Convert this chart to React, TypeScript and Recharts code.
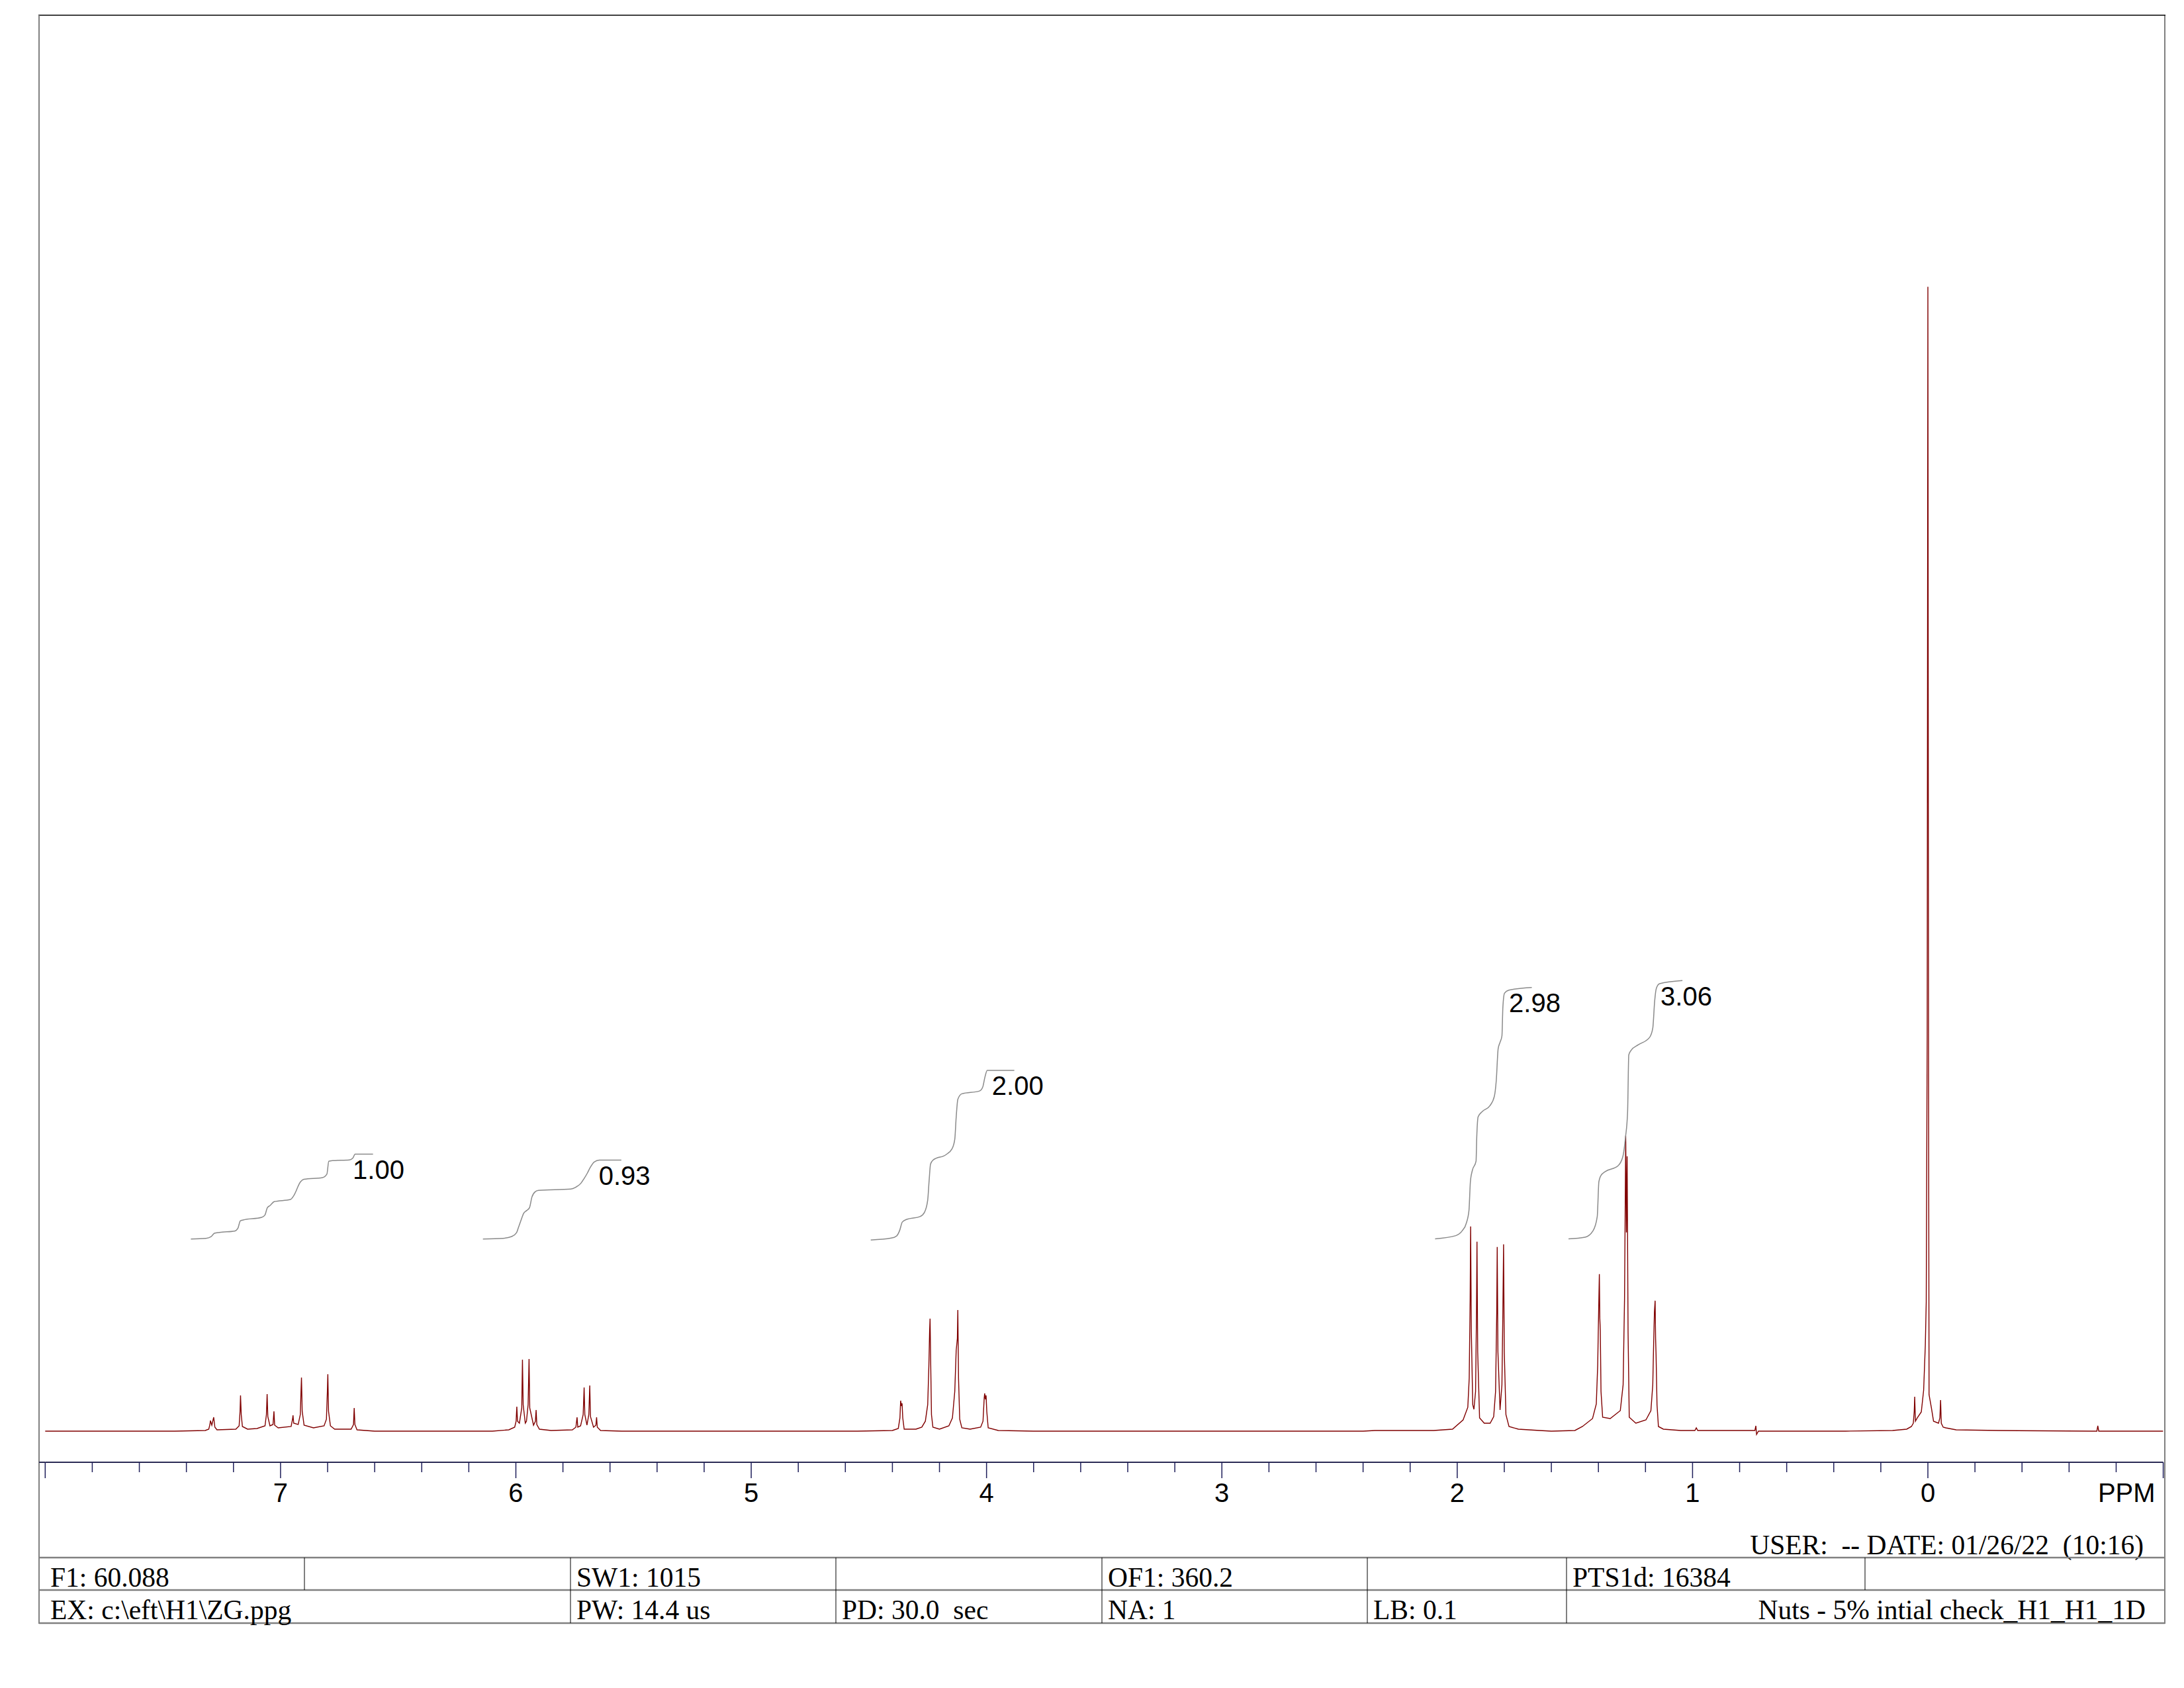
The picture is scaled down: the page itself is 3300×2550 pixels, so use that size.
import React from 'react';
import { LineChart, Line, XAxis, YAxis, ReferenceDot } from 'recharts';

type Pt = [number, number];

// 1H spectrum trace, [ppm, intensity] (TMS = 1728)
const aromatic: Pt[] = [
  [8.03, 0], [7.45, 0], [7.32, 1], [7.305, 3], [7.3, 10], [7.298, 16], [7.292, 9], [7.284, 21], [7.279, 6],
  [7.27, 2], [7.19, 3], [7.176, 8], [7.172, 30], [7.17, 54], [7.167, 25], [7.162, 7], [7.14, 3], [7.1, 4],
  [7.066, 8], [7.06, 25], [7.057, 56], [7.054, 22], [7.045, 8], [7.032, 10], [7.028, 30], [7.025, 9],
  [7.01, 5], [6.955, 7], [6.949, 18], [6.947, 24], [6.944, 12], [6.925, 10], [6.916, 25], [6.913, 60],
  [6.911, 81], [6.908, 30], [6.9, 9], [6.86, 5], [6.815, 8], [6.805, 18], [6.801, 60], [6.799, 86],
  [6.796, 30], [6.788, 8], [6.77, 3], [6.7, 3], [6.69, 10], [6.687, 35], [6.684, 10], [6.675, 2], [6.6, 0],
];

const vinyl: Pt[] = [
  [6.1, 0], [6.03, 2], [6.005, 6], [5.999, 15], [5.996, 37], [5.993, 15], [5.985, 12], [5.975, 35],
  [5.972, 108], [5.969, 40], [5.96, 12], [5.955, 15], [5.948, 40], [5.944, 109], [5.941, 35], [5.925, 9],
  [5.917, 15], [5.914, 32], [5.911, 10], [5.9, 3], [5.85, 1], [5.76, 2], [5.745, 6], [5.74, 21], [5.737, 6],
  [5.725, 8], [5.714, 25], [5.71, 66], [5.707, 25], [5.698, 9], [5.69, 25], [5.686, 69], [5.683, 22],
  [5.67, 6], [5.66, 9], [5.657, 21], [5.654, 6], [5.64, 1], [5.55, 0],
];

const ethoxyCH2: Pt[] = [
  [4.55, 0], [4.4, 1], [4.375, 4], [4.368, 20], [4.365, 46], [4.362, 38], [4.359, 42], [4.356, 20],
  [4.35, 3], [4.3, 3], [4.275, 6], [4.26, 15], [4.25, 40], [4.245, 100], [4.242, 150], [4.24, 170],
  [4.238, 120], [4.234, 25], [4.228, 6], [4.2, 3], [4.16, 8], [4.145, 20], [4.135, 60], [4.129, 122],
  [4.124, 140], [4.122, 183], [4.119, 80], [4.114, 18], [4.105, 5], [4.07, 3], [4.025, 6], [4.015, 15],
  [4.01, 50], [4.008, 57], [4.005, 48], [4.002, 54], [3.999, 30], [3.993, 5], [3.95, 1], [3.8, 0],
];

const methylDoublets: Pt[] = [
  [2.4, 0], [2.35, 1], [2.3, 1], [2.1, 1], [2.02, 3], [1.975, 17], [1.955, 36], [1.949, 80], [1.945, 200],
  [1.943, 309], [1.94, 150], [1.934, 40], [1.929, 33], [1.922, 60], [1.918, 180], [1.916, 286],
  [1.913, 120], [1.905, 20], [1.885, 12], [1.86, 12], [1.845, 22], [1.837, 60], [1.832, 180],
  [1.83, 278], [1.827, 120], [1.818, 32], [1.81, 70], [1.806, 180], [1.803, 282], [1.8, 120],
  [1.793, 25], [1.78, 7], [1.74, 3], [1.65, 1],
];

const aliphatic: Pt[] = [
  [1.6, 0], [1.5, 1], [1.468, 7], [1.425, 19], [1.409, 41], [1.403, 100], [1.401, 142], [1.398, 200],
  [1.396, 237], [1.394, 170], [1.392, 152], [1.389, 60], [1.382, 21], [1.35, 19], [1.307, 31],
  [1.295, 70], [1.289, 200], [1.284, 446], [1.281, 300], [1.278, 415], [1.274, 150], [1.269, 21],
  [1.241, 12], [1.198, 17], [1.177, 31], [1.169, 70], [1.166, 121], [1.162, 180], [1.159, 197],
  [1.157, 140], [1.155, 115], [1.151, 40], [1.145, 7], [1.124, 3], [1.05, 1], [0.99, 1], [0.984, 5],
  [0.978, 1], [0.8, 1], [0.735, 1], [0.731, 8], [0.728, -5], [0.72, 0], [0.4, 0],
];

const tms: Pt[] = [
  [0.35, 0], [0.15, 1], [0.09, 3], [0.07, 7], [0.062, 12], [0.058, 30], [0.056, 52], [0.053, 15],
  [0.045, 20], [0.028, 29], [0.018, 62], [0.011, 129], [0.007, 195], [0.003, 600], [0, 1728],
  [-0.003, 500], [-0.005, 55], [-0.01, 45], [-0.015, 35], [-0.024, 15], [-0.045, 12], [-0.051, 20],
  [-0.054, 47], [-0.057, 12], [-0.065, 6], [-0.076, 5], [-0.12, 2], [-0.3, 1], [-0.7, 0], [-0.718, 0],
  [-0.722, 8], [-0.726, 0], [-1.0, 0],
];

// integral curves, [ppm, level]
const integral1: Pt[] = [
  [7.381, 290.2], [7.317, 291.2], [7.295, 293.8], [7.281, 298.8], [7.259, 300.2], [7.195, 302.2],
  [7.181, 306.5], [7.171, 317.5], [7.159, 318.8], [7.08, 322.8], [7.066, 326.5], [7.056, 337.5],
  [7.044, 340.8], [7.027, 346.5], [6.958, 349.8], [6.944, 355.5], [6.915, 376.5], [6.901, 380.2],
  [6.822, 382.8], [6.803, 388.2], [6.795, 407.5], [6.779, 408.5], [6.707, 409.5], [6.693, 412.2],
  [6.683, 418.2], [6.607, 418.2],
];
const integral2: Pt[] = [
  [6.14, 290.2], [6.054, 291.2], [6.018, 293.8], [5.997, 299.8], [5.99, 306.5], [5.975, 321.5],
  [5.968, 328.2], [5.954, 333.2], [5.942, 337.5], [5.932, 353.2], [5.918, 361.5], [5.904, 363.5],
  [5.767, 365.5], [5.746, 368.2], [5.724, 374.2], [5.71, 381.5], [5.696, 389.8], [5.684, 398.2],
  [5.667, 406.5], [5.645, 409.2], [5.552, 409.2],
];
const integral3: Pt[] = [
  [4.492, 288.6], [4.405, 291.5], [4.382, 294.8], [4.369, 303.2], [4.358, 315.7], [4.339, 319.8],
  [4.283, 324], [4.264, 330.3], [4.25, 349], [4.244, 378.2], [4.238, 403.2], [4.227, 409.4],
  [4.171, 417.8], [4.147, 426.1], [4.135, 440.7], [4.129, 474], [4.122, 501.1], [4.105, 509.4],
  [4.03, 513.6], [4.016, 519.8], [4.007, 534.4], [3.997, 544.8], [3.882, 544.8],
];
const integral4: Pt[] = [
  [2.094, 290.4], [2.006, 295.2], [1.979, 302.4], [1.961, 314.4], [1.95, 333.5], [1.944, 376.6],
  [1.936, 393.3], [1.92, 407.7], [1.917, 443.6], [1.911, 474.7], [1.893, 482.8], [1.861, 491.4],
  [1.842, 505.8], [1.834, 529.7], [1.826, 577.5], [1.818, 587.1], [1.81, 596.7], [1.806, 639.7],
  [1.799, 661.3], [1.78, 666], [1.683, 669.9],
];
const integral5: Pt[] = [
  [1.527, 290.4], [1.457, 292.8], [1.423, 302.4], [1.405, 323.9], [1.398, 376.6], [1.389, 386.1],
  [1.371, 391.9], [1.317, 400.5], [1.296, 414.8], [1.285, 443.6], [1.276, 481.8], [1.271, 568],
  [1.261, 575.1], [1.231, 583.3], [1.183, 594.3], [1.169, 608.6], [1.161, 649.3], [1.154, 668.4],
  [1.14, 675.6], [1.043, 680.4],
];

const integralValues = ['1.00', '0.93', '2.00', '2.98', '3.06'];
const integralLabelAt: Pt[] = [[6.693, 380.5], [5.648, 372], [3.977, 507.5], [1.78, 632.5], [1.136, 642.5]];

const majorTicks = [8, 7, 6, 5, 4, 3, 2, 1, 0, -1];
const majorTickLabels = ['', '7', '6', '5', '4', '3', '2', '1', '0', 'PPM'];

const paramsRow1 = ['F1: 60.088', '', 'SW1: 1015', '', 'OF1: 360.2', '', 'PTS1d: 16384', ''];
const paramsRow2 = ['EX: c:\\eft\\H1\\ZG.ppg', 'PW: 14.4 us', 'PD: 30.0  sec', 'NA: 1', 'LB: 0.1', 'Nuts - 5% intial check_H1_H1_1D'];
const headerText = 'USER:  -- DATE: 01/26/22  (10:16)';

const SANS = "'Liberation Sans', Arial, Helvetica, sans-serif";
const SERIF = "'Liberation Serif', 'Times New Roman', Times, serif";

const toRows = (pts: Pt[]) => pts.map(([ppm, v]) => ({ ppm, v }));
const spectrum = toRows(
  [...aromatic, ...vinyl, ...ethoxyCH2, ...methylDoublets, ...aliphatic, ...tms].sort((a, b) => b[0] - a[0])
);
const integrals = [integral1, integral2, integral3, integral4, integral5].map(toRows);

const allTicks: number[] = [];
for (let i = 0; i <= 45; i++) allTicks.push(Math.round((8 - i * 0.2) * 10) / 10);

const PpmTick = (props: any) => {
  const { x, y, payload } = props;
  const val = Math.round(payload.value * 10) / 10;
  const idx = majorTicks.indexOf(val);
  const label = idx >= 0 ? majorTickLabels[idx] : '';
  const isPpm = label === 'PPM';
  return (
    <g>
      <line x1={x} y1={y} x2={x} y2={y + (idx >= 0 ? 24 : 15)} stroke="#1e1e5a" strokeWidth={1.5} />
      {label && (
        <text x={isPpm ? x - 12 : x} y={y + 60} textAnchor={isPpm ? 'end' : 'middle'}
          fontFamily={SANS} fontSize={40} fill="#000">
          {label}
        </text>
      )}
    </g>
  );
};

// layout of the parameter table
const row1Edges = [59, 460, 862, 1263, 1665, 2066, 2367, 2818, 3270];
const row2Edges = [59, 862, 1263, 1665, 2066, 2367, 3270];
const TABLE_FONT = 41.5;

const FrameAndTable = () => (
  <svg width={3300} height={2550} style={{ position: 'absolute', left: 0, top: 0, pointerEvents: 'none' }}>
    <line x1={58} y1={23} x2={3272} y2={23} stroke="#000" strokeWidth={1.5} />
    <line x1={59} y1={23} x2={59} y2={2453} stroke="#808080" strokeWidth={2} />
    <line x1={3271} y1={23} x2={3271} y2={2453} stroke="#000" strokeWidth={1} />
    <line x1={59} y1={2209} x2={68} y2={2209} stroke="#2b2b55" strokeWidth={2} />
    <text x={3239} y={2348} textAnchor="end" fontFamily={SERIF} fontSize={TABLE_FONT} style={{ whiteSpace: 'pre' }}>
      {headerText}
    </text>
    {[2353, 2402, 2452].map((y) => (
      <line key={y} x1={59} y1={y} x2={3271} y2={y} stroke="#808080" strokeWidth={2.5} />
    ))}
    {row1Edges.slice(1, -1).map((x) => (
      <line key={'a' + x} x1={x} y1={2353} x2={x} y2={2402} stroke="#000" strokeWidth={1} />
    ))}
    {row2Edges.slice(1, -1).map((x) => (
      <line key={'b' + x} x1={x} y1={2402} x2={x} y2={2452} stroke="#000" strokeWidth={1} />
    ))}
    {paramsRow1.map((t, i) => (
      <text key={'r1' + i} x={row1Edges[i] + (i === 0 ? 17 : 9)} y={2397} fontFamily={SERIF} fontSize={TABLE_FONT}
        style={{ whiteSpace: 'pre' }}>
        {t}
      </text>
    ))}
    {paramsRow2.map((t, i) => {
      const last = i === paramsRow2.length - 1;
      return (
        <text key={'r2' + i} x={last ? 3242 : row2Edges[i] + (i === 0 ? 17 : 9)} y={2446}
          textAnchor={last ? 'end' : 'start'} fontFamily={SERIF} fontSize={TABLE_FONT} style={{ whiteSpace: 'pre' }}>
          {t}
        </text>
      );
    })}
  </svg>
);

export default function App() {
  return (
    <div style={{ position: 'absolute', left: 0, top: 0, width: 3300, height: 2550, background: '#fff' }}>
      <LineChart width={3300} height={2550} margin={{ top: 23, right: 31.4, left: 68.3, bottom: 241 }}>
        <XAxis
          type="number"
          dataKey="ppm"
          domain={[-1, 8]}
          reversed
          allowDataOverflow
          ticks={allTicks}
          interval={0}
          height={100}
          tickSize={0}
          tickMargin={0}
          tickLine={false}
          axisLine={{ stroke: '#2b2b55', strokeWidth: 2 }}
          tick={<PpmTick />}
        />
        <YAxis type="number" dataKey="v" domain={[-47, 2138]} allowDataOverflow hide width={0} />
        <Line
          data={spectrum}
          dataKey="v"
          type="linear"
          stroke="#800000"
          strokeWidth={1.4}
          dot={false}
          isAnimationActive={false}
        />
        {integrals.map((d, i) => (
          <Line
            key={i}
            data={d}
            dataKey="v"
            type="monotone"
            stroke="#8a8a8a"
            strokeWidth={1.5}
            dot={false}
            isAnimationActive={false}
          />
        ))}
        {integralValues.map((t, i) => (
          <ReferenceDot
            key={t + i}
            x={integralLabelAt[i][0]}
            y={integralLabelAt[i][1]}
            r={0}
            fill="none"
            stroke="none"
            label={(p: any) => (
              <text x={p.viewBox.x} y={p.viewBox.y} fontFamily={SANS} fontSize={40} fill="#000">
                {t}
              </text>
            )}
          />
        ))}
      </LineChart>
      <FrameAndTable />
    </div>
  );
}
